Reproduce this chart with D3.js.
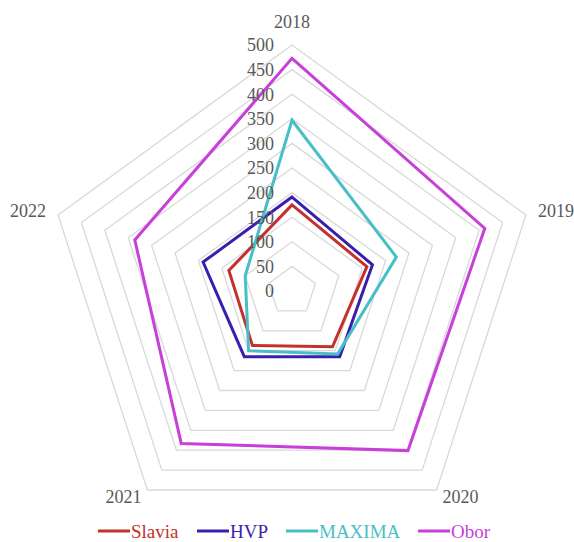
<!DOCTYPE html>
<html>
<head>
<meta charset="utf-8">
<script src="https://cdn.jsdelivr.net/npm/d3@7"></script>
<style>
  html, body { margin: 0; padding: 0; background: #fff; }
  svg { display: block; }
</style>
</head>
<body>
<svg id="chart" width="574" height="542"></svg>
<script>
const years = ["2018", "2019", "2020", "2021", "2022"];
const slavia = [175, 160, 140, 137, 135];
const hvp = [191, 172, 165, 165, 190];
const maxima = [347, 223, 158, 150, 100];
const obor = [473, 412, 401, 383, 336];
const tickValues = [0, 50, 100, 150, 200, 250, 300, 350, 400, 450, 500];
const seriesNames = ["Slavia", "HVP", "MAXIMA", "Obor"];
const seriesColors = ["#c4302b", "#3a1fae", "#48bfc7", "#c83fd9"];

const series = [slavia, hvp, maxima, obor].map((vals, i) => ({
  name: seriesNames[i], values: vals, color: seriesColors[i]
}));

const W = 574, H = 542;
const cx = 292, cy = 291, R = 246;
const svg = d3.select("#chart");
const font = "'Liberation Serif', 'Times New Roman', serif";

const r = d3.scaleLinear().domain([0, 500]).range([0, R]);
const angle = d3.scalePoint().domain(years).range([0, 2 * Math.PI * (years.length - 1) / years.length]);
const pt = (year, v) => {
  const a = angle(year);
  return [cx + r(v) * Math.sin(a), cy - r(v) * Math.cos(a)];
};

const line = d3.line().curve(d3.curveLinearClosed);

// grid rings
const g = svg.append("g");
g.selectAll("path.ring")
  .data(tickValues.filter(d => d > 0))
  .join("path")
  .attr("class", "ring")
  .attr("d", v => line(years.map(y => pt(y, v))))
  .attr("fill", "none")
  .attr("stroke", "#d9d9d9")
  .attr("stroke-width", 1.3);

// series
svg.append("g").selectAll("path.series")
  .data(series)
  .join("path")
  .attr("class", "series")
  .attr("d", s => line(years.map((y, i) => pt(y, s.values[i]))))
  .attr("fill", "none")
  .attr("stroke", s => s.color)
  .attr("stroke-width", 3)
  .attr("stroke-linejoin", "miter");

// tick labels
svg.append("g").selectAll("text.tick")
  .data(tickValues)
  .join("text")
  .attr("class", "tick")
  .attr("x", cx - 18)
  .attr("y", v => cy - r(v))
  .attr("dy", "0.35em")
  .attr("text-anchor", "end")
  .attr("font-family", font)
  .attr("font-size", 18)
  .attr("fill", "#595959")
  .text(v => v);

// axis labels
svg.append("g").selectAll("text.axis")
  .data(years)
  .join("text")
  .attr("class", "axis")
  .each(function(y) {
    const a = angle(y);
    const [vx, vy] = pt(y, 500);
    const s = Math.sin(a), c = Math.cos(a);
    let x, yy, anchor;
    if (Math.abs(s) < 0.01) { x = vx; yy = vy - 23; anchor = "middle"; }
    else if (c > 0) { x = vx + 12 * Math.sign(s); yy = vy - 4; anchor = s > 0 ? "start" : "end"; }
    else { x = vx + 24 * Math.sign(s); yy = vy + 7; anchor = "middle"; }
    d3.select(this)
      .attr("x", x).attr("y", yy)
      .attr("dy", "0.35em")
      .attr("text-anchor", anchor);
  })
  .attr("font-family", font)
  .attr("font-size", 18)
  .attr("fill", "#595959")
  .text(d => d);

// legend
const legendX = d3.scaleOrdinal().domain(seriesNames).range([98, 197, 286, 418]);
const lg = svg.append("g").selectAll("g.leg").data(series).join("g")
  .attr("class", "leg")
  .attr("transform", s => `translate(${legendX(s.name)},531)`);
lg.append("line")
  .attr("x1", 0).attr("x2", 32).attr("y1", 0).attr("y2", 0)
  .attr("stroke", s => s.color).attr("stroke-width", 3);
lg.append("text")
  .attr("x", 33).attr("y", 0).attr("dy", "0.35em")
  .attr("font-family", font).attr("font-size", 19)
  .attr("fill", s => s.color)
  .text(s => s.name);
</script>
</body>
</html>
